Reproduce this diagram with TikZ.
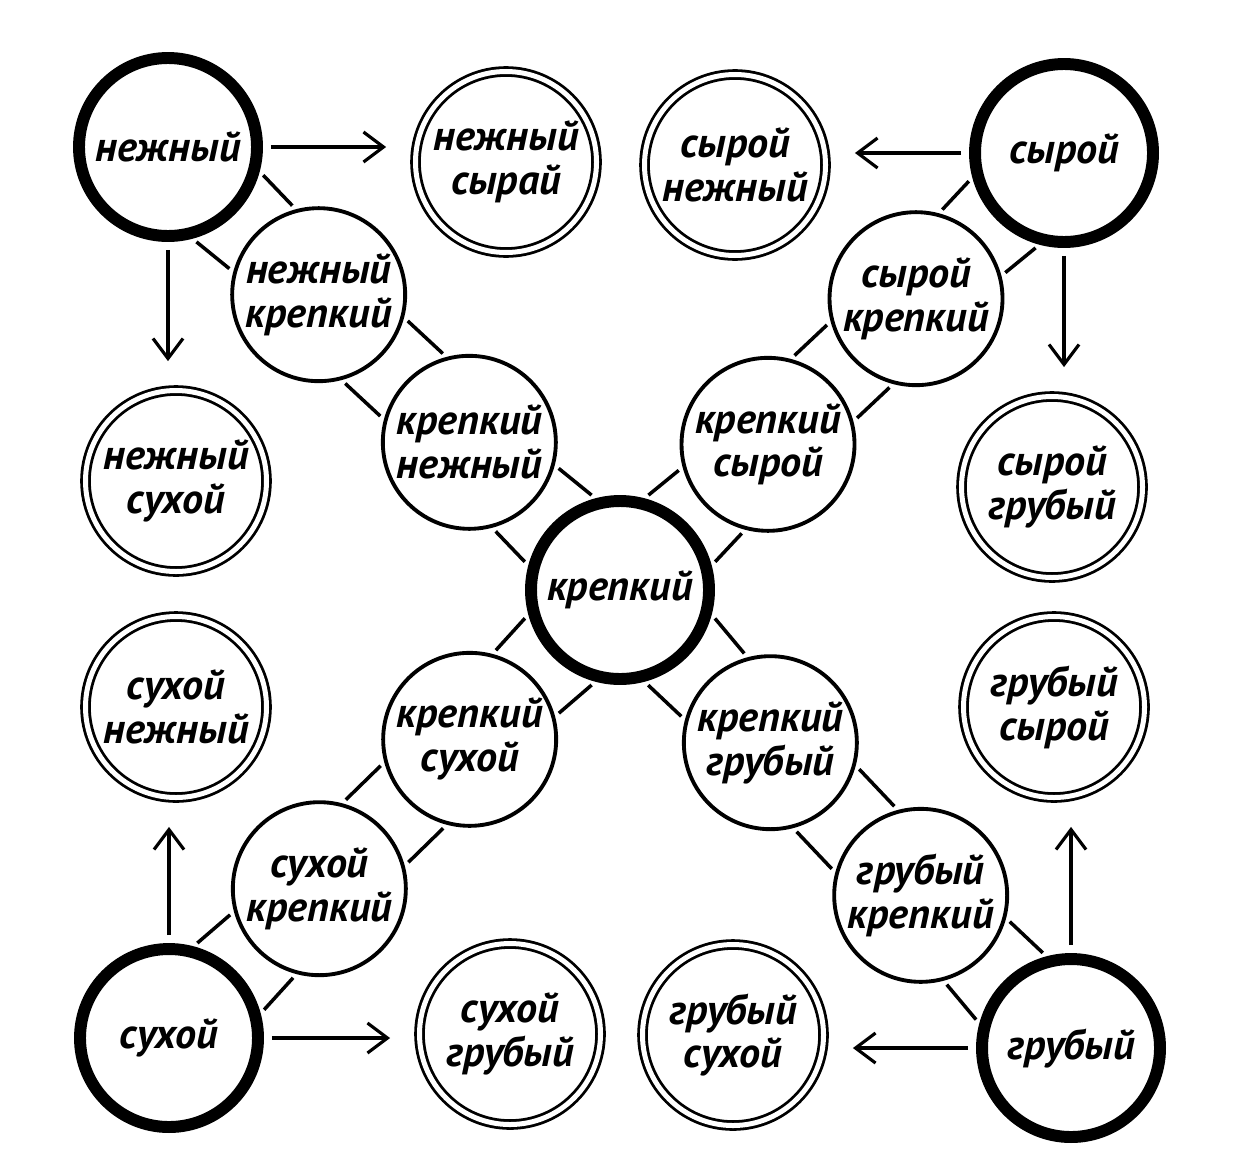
\documentclass[tikz,border=0pt]{standalone}
\usepackage{fontspec}
\setmainfont{PT Sans}
\usetikzlibrary{calc}
\usetikzlibrary{arrows.meta}

% two parallel lines between two circles, #3 = direction from #1 to #2
\newcommand\tube[3]{%
	\pgfmathtruncatemacro\tubeA{#3+30}\pgfmathtruncatemacro\tubeB{#3-30}%
	\pgfmathtruncatemacro\tubeC{#3+150}\pgfmathtruncatemacro\tubeD{#3+210}%
	\draw[link] (#1.\tubeA) -- (#2.\tubeC);
	\draw[link] (#1.\tubeB) -- (#2.\tubeD);}

\begin{document}
\begin{tikzpicture}[
				word/.style = {circle, inner sep=0pt, align=center, font=\fontsize{12}{12.5}\selectfont\bfseries\itshape},
				main/.style = {word, draw, line width=3.4pt, minimum size=1.78cm},
				pair/.style = {word, draw, line width=1.1pt, minimum size=1.73cm},
				dbl/.style = {word, draw, double, line width=0.8pt, double distance=0.5mm, minimum size=1.81cm},
				link/.style = {line width=1pt, shorten <=0.05cm, shorten >=0.05cm},
				arr/.style = {-{Straight Barb[length=2mm,width=3mm]}, line width=0.9pt, shorten <=0.08cm, shorten >=0.28cm}
				]
				\useasboundingbox (0,0) rectangle (12.48,11.65);
				
				% main words
				\node[main] (krep) at (6.20,5.75) {крепкий};
				\node[main] (nezh) at (1.68,10.18) {нежный};
				\node[main] (syr) at (10.64,10.12) {сырой};
				\node[main] (suh) at (1.69,1.27) {сухой};
				\node[main] (grub) at (10.71,1.17) {грубый};
				
				% pairs with крепкий
				\node[pair] (nezhkrep) at ($(nezh)!1/3!(krep)$) {нежный\\крепкий};
				\node[pair] (krepnezh) at ($(nezh)!2/3!(krep)$) {крепкий\\нежный};
				\node[pair] (syrkrep) at ($(syr)!1/3!(krep)$) {сырой\\крепкий};
				\node[pair] (krepsyr) at ($(syr)!2/3!(krep)$) {крепкий\\сырой};
				\node[pair] (suhkrep) at ($(suh)!1/3!(krep)$) {сухой\\крепкий};
				\node[pair] (krepsuh) at ($(suh)!2/3!(krep)$) {крепкий\\сухой};
				\node[pair] (grubkrep) at ($(grub)!1/3!(krep)$) {грубый\\крепкий};
				\node[pair] (krepgrub) at ($(grub)!2/3!(krep)$) {крепкий\\грубый};
				
				% other pairs
				\node[dbl] (nezhsyr) at (5.06,10.03) {нежный\\сырай};
				\node[dbl] (syrnezh) at (7.35,10.00) {сырой\\нежный};
				\node[dbl] (nezhsuh) at (1.76,6.84) {нежный\\сухой};
				\node[dbl] (suhnezh) at (1.76,4.58) {сухой\\нежный};
				\node[dbl] (syrgrub) at (10.52,6.78) {сырой\\грубый};
				\node[dbl] (grubsyr) at (10.54,4.58) {грубый\\сырой};
				\node[dbl] (suhgrub) at (5.10,1.31) {сухой\\грубый};
				\node[dbl] (grubsuh) at (7.33,1.30) {грубый\\сухой};
				
				\tube{nezh}{nezhkrep}{-45}
				\tube{nezhkrep}{krepnezh}{-45}
				\tube{krepnezh}{krep}{-45}
				\tube{syr}{syrkrep}{-135}
				\tube{syrkrep}{krepsyr}{-135}
				\tube{krepsyr}{krep}{-135}
				\tube{suh}{suhkrep}{45}
				\tube{suhkrep}{krepsuh}{45}
				\tube{krepsuh}{krep}{45}
				\tube{grub}{grubkrep}{135}
				\tube{grubkrep}{krepgrub}{135}
				\tube{krepgrub}{krep}{135}
				
				\draw[arr] (nezh.east) -- (nezh.east -| nezhsyr.west);
				\draw[arr] (nezh.south) -- (nezh.south |- nezhsuh.north);
				\draw[arr] (syr.west) -- (syr.west -| syrnezh.east);
				\draw[arr] (syr.south) -- (syr.south |- syrgrub.north);
				\draw[arr] (suh.north) -- (suh.north |- suhnezh.south);
				\draw[arr] (suh.east) -- (suh.east -| suhgrub.west);
				\draw[arr] (grub.west) -- (grub.west -| grubsuh.east);
				\draw[arr] (grub.north) -- (grub.north |- grubsyr.south);
\end{tikzpicture}
\end{document}
